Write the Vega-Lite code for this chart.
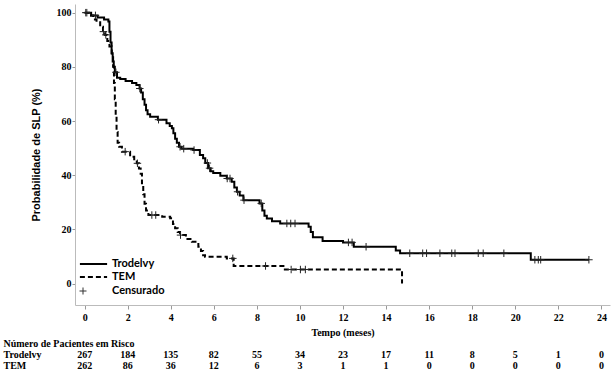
{
  "$schema": "https://vega.github.io/schema/vega-lite/v6.json",
  "padding": {"left": 3, "top": 4, "right": 5, "bottom": 5},
  "background": "white",
  "spacing": 1,
  "config": {"view": {"stroke": null}},
  "resolve": {"legend": {"strokeDash": "independent", "shape": "independent"}, "scale": {"x": "independent", "y": "independent"}},
  "datasets": {
    "curves": [
      {"arm": "Trodelvy", "t": 0, "s": 100}, {"arm": "Trodelvy", "t": 0.3, "s": 99}, {"arm": "Trodelvy", "t": 0.6, "s": 98.2}, {"arm": "Trodelvy", "t": 0.9, "s": 97.5}, {"arm": "Trodelvy", "t": 1.1, "s": 96.7}, {"arm": "Trodelvy", "t": 1.15, "s": 93}, {"arm": "Trodelvy", "t": 1.2, "s": 89}, {"arm": "Trodelvy", "t": 1.25, "s": 85}, {"arm": "Trodelvy", "t": 1.3, "s": 82}, {"arm": "Trodelvy", "t": 1.35, "s": 80}, {"arm": "Trodelvy", "t": 1.4, "s": 78}, {"arm": "Trodelvy", "t": 1.5, "s": 76}, {"arm": "Trodelvy", "t": 1.65, "s": 75.5}, {"arm": "Trodelvy", "t": 1.9, "s": 74.8}, {"arm": "Trodelvy", "t": 2.2, "s": 74}, {"arm": "Trodelvy", "t": 2.4, "s": 73.3}, {"arm": "Trodelvy", "t": 2.55, "s": 72}, {"arm": "Trodelvy", "t": 2.62, "s": 70.5}, {"arm": "Trodelvy", "t": 2.7, "s": 68}, {"arm": "Trodelvy", "t": 2.78, "s": 66}, {"arm": "Trodelvy", "t": 2.85, "s": 64}, {"arm": "Trodelvy", "t": 2.92, "s": 62.5}, {"arm": "Trodelvy", "t": 3.04, "s": 61.6}, {"arm": "Trodelvy", "t": 3.4, "s": 60.5}, {"arm": "Trodelvy", "t": 3.8, "s": 59.2}, {"arm": "Trodelvy", "t": 3.95, "s": 58.2}, {"arm": "Trodelvy", "t": 4.05, "s": 57.3}, {"arm": "Trodelvy", "t": 4.12, "s": 55.5}, {"arm": "Trodelvy", "t": 4.2, "s": 53.5}, {"arm": "Trodelvy", "t": 4.28, "s": 52}, {"arm": "Trodelvy", "t": 4.38, "s": 50.5}, {"arm": "Trodelvy", "t": 4.5, "s": 49.8}, {"arm": "Trodelvy", "t": 5.04, "s": 49.3}, {"arm": "Trodelvy", "t": 5.35, "s": 47.5}, {"arm": "Trodelvy", "t": 5.5, "s": 46.3}, {"arm": "Trodelvy", "t": 5.6, "s": 44.5}, {"arm": "Trodelvy", "t": 5.73, "s": 42.6}, {"arm": "Trodelvy", "t": 5.85, "s": 41.5}, {"arm": "Trodelvy", "t": 5.97, "s": 40.8}, {"arm": "Trodelvy", "t": 6.3, "s": 39.8}, {"arm": "Trodelvy", "t": 6.6, "s": 38.8}, {"arm": "Trodelvy", "t": 6.83, "s": 37.6}, {"arm": "Trodelvy", "t": 6.95, "s": 35.5}, {"arm": "Trodelvy", "t": 7.07, "s": 33.9}, {"arm": "Trodelvy", "t": 7.2, "s": 32.5}, {"arm": "Trodelvy", "t": 7.37, "s": 30.8}, {"arm": "Trodelvy", "t": 8.12, "s": 29.6}, {"arm": "Trodelvy", "t": 8.25, "s": 27}, {"arm": "Trodelvy", "t": 8.35, "s": 25}, {"arm": "Trodelvy", "t": 8.46, "s": 24}, {"arm": "Trodelvy", "t": 8.7, "s": 23}, {"arm": "Trodelvy", "t": 9.08, "s": 22.2}, {"arm": "Trodelvy", "t": 10.4, "s": 21}, {"arm": "Trodelvy", "t": 10.5, "s": 19}, {"arm": "Trodelvy", "t": 10.6, "s": 17.1}, {"arm": "Trodelvy", "t": 11.05, "s": 15.7}, {"arm": "Trodelvy", "t": 12.0, "s": 15.2}, {"arm": "Trodelvy", "t": 12.5, "s": 13.6}, {"arm": "Trodelvy", "t": 14.45, "s": 12.2}, {"arm": "Trodelvy", "t": 14.65, "s": 11.2}, {"arm": "Trodelvy", "t": 20.72, "s": 8.8}, {"arm": "Trodelvy", "t": 23.42, "s": 8.8},
      {"arm": "TEM", "t": 0, "s": 100}, {"arm": "TEM", "t": 0.2, "s": 99}, {"arm": "TEM", "t": 0.4, "s": 97.5}, {"arm": "TEM", "t": 0.55, "s": 96.5}, {"arm": "TEM", "t": 0.72, "s": 94.8}, {"arm": "TEM", "t": 0.85, "s": 93}, {"arm": "TEM", "t": 0.95, "s": 91.8}, {"arm": "TEM", "t": 1.05, "s": 89.5}, {"arm": "TEM", "t": 1.15, "s": 87.5}, {"arm": "TEM", "t": 1.26, "s": 84.4}, {"arm": "TEM", "t": 1.32, "s": 80}, {"arm": "TEM", "t": 1.36, "s": 74}, {"arm": "TEM", "t": 1.4, "s": 68}, {"arm": "TEM", "t": 1.44, "s": 62}, {"arm": "TEM", "t": 1.48, "s": 56}, {"arm": "TEM", "t": 1.53, "s": 52}, {"arm": "TEM", "t": 1.6, "s": 50.5}, {"arm": "TEM", "t": 1.73, "s": 48.7}, {"arm": "TEM", "t": 2.11, "s": 46.8}, {"arm": "TEM", "t": 2.3, "s": 45.5}, {"arm": "TEM", "t": 2.42, "s": 44.4}, {"arm": "TEM", "t": 2.52, "s": 42.5}, {"arm": "TEM", "t": 2.6, "s": 40.5}, {"arm": "TEM", "t": 2.66, "s": 37}, {"arm": "TEM", "t": 2.72, "s": 33}, {"arm": "TEM", "t": 2.78, "s": 29.5}, {"arm": "TEM", "t": 2.85, "s": 27}, {"arm": "TEM", "t": 2.96, "s": 25.3}, {"arm": "TEM", "t": 3.6, "s": 24.7}, {"arm": "TEM", "t": 3.97, "s": 24.1}, {"arm": "TEM", "t": 4.1, "s": 22}, {"arm": "TEM", "t": 4.2, "s": 20.4}, {"arm": "TEM", "t": 4.32, "s": 19}, {"arm": "TEM", "t": 4.43, "s": 17.9}, {"arm": "TEM", "t": 4.7, "s": 16.5}, {"arm": "TEM", "t": 4.98, "s": 15.4}, {"arm": "TEM", "t": 5.28, "s": 13.6}, {"arm": "TEM", "t": 5.4, "s": 12}, {"arm": "TEM", "t": 5.5, "s": 10.5}, {"arm": "TEM", "t": 5.59, "s": 9.9}, {"arm": "TEM", "t": 6.6, "s": 9.3}, {"arm": "TEM", "t": 6.92, "s": 6.5}, {"arm": "TEM", "t": 9.23, "s": 5.2}, {"arm": "TEM", "t": 14.73, "s": 5.2}, {"arm": "TEM", "t": 14.74, "s": 0}
    ],
    "censors": [
      {"arm": "Trodelvy", "t": 0.05, "s": 100}, {"arm": "Trodelvy", "t": 0.5, "s": 99}, {"arm": "Trodelvy", "t": 1.45, "s": 78}, {"arm": "Trodelvy", "t": 2.56, "s": 72}, {"arm": "Trodelvy", "t": 3.43, "s": 60.5}, {"arm": "Trodelvy", "t": 4.43, "s": 50.5}, {"arm": "Trodelvy", "t": 4.6, "s": 49.8}, {"arm": "Trodelvy", "t": 5.08, "s": 49.3}, {"arm": "Trodelvy", "t": 5.7, "s": 44.5}, {"arm": "Trodelvy", "t": 5.8, "s": 42.6}, {"arm": "Trodelvy", "t": 6.62, "s": 38.8}, {"arm": "Trodelvy", "t": 6.75, "s": 38.8}, {"arm": "Trodelvy", "t": 7.1, "s": 33.9}, {"arm": "Trodelvy", "t": 7.4, "s": 30.8}, {"arm": "Trodelvy", "t": 8.2, "s": 29.6}, {"arm": "Trodelvy", "t": 9.39, "s": 22.2}, {"arm": "Trodelvy", "t": 9.57, "s": 22.2}, {"arm": "Trodelvy", "t": 9.77, "s": 22.2}, {"arm": "Trodelvy", "t": 12.25, "s": 15.2}, {"arm": "Trodelvy", "t": 12.42, "s": 15.2}, {"arm": "Trodelvy", "t": 13.07, "s": 13.6}, {"arm": "Trodelvy", "t": 15.1, "s": 11.2}, {"arm": "Trodelvy", "t": 15.7, "s": 11.2}, {"arm": "Trodelvy", "t": 15.88, "s": 11.2}, {"arm": "Trodelvy", "t": 16.5, "s": 11.2}, {"arm": "Trodelvy", "t": 17.05, "s": 11.2}, {"arm": "Trodelvy", "t": 17.2, "s": 11.2}, {"arm": "Trodelvy", "t": 18.28, "s": 11.2}, {"arm": "Trodelvy", "t": 18.51, "s": 11.2}, {"arm": "Trodelvy", "t": 19.47, "s": 11.2}, {"arm": "Trodelvy", "t": 20.91, "s": 8.8}, {"arm": "Trodelvy", "t": 21.07, "s": 8.8}, {"arm": "Trodelvy", "t": 21.18, "s": 8.8}, {"arm": "Trodelvy", "t": 23.42, "s": 8.8},
      {"arm": "TEM", "t": 0.1, "s": 100}, {"arm": "TEM", "t": 0.87, "s": 93}, {"arm": "TEM", "t": 0.98, "s": 91.8}, {"arm": "TEM", "t": 1.88, "s": 48.7}, {"arm": "TEM", "t": 2.45, "s": 44.4}, {"arm": "TEM", "t": 3.12, "s": 25.3}, {"arm": "TEM", "t": 3.3, "s": 25.3}, {"arm": "TEM", "t": 4.45, "s": 17.9}, {"arm": "TEM", "t": 6.88, "s": 9.3}, {"arm": "TEM", "t": 8.4, "s": 6.5}, {"arm": "TEM", "t": 9.59, "s": 5.2}, {"arm": "TEM", "t": 10.02, "s": 5.2}, {"arm": "TEM", "t": 10.25, "s": 5.2}
    ],
    "risk": [
      {"arm": "Trodelvy", "t": 0, "n": 267}, {"arm": "Trodelvy", "t": 2, "n": 184}, {"arm": "Trodelvy", "t": 4, "n": 135}, {"arm": "Trodelvy", "t": 6, "n": 82}, {"arm": "Trodelvy", "t": 8, "n": 55}, {"arm": "Trodelvy", "t": 10, "n": 34}, {"arm": "Trodelvy", "t": 12, "n": 23}, {"arm": "Trodelvy", "t": 14, "n": 17}, {"arm": "Trodelvy", "t": 16, "n": 11}, {"arm": "Trodelvy", "t": 18, "n": 8}, {"arm": "Trodelvy", "t": 20, "n": 5}, {"arm": "Trodelvy", "t": 22, "n": 1}, {"arm": "Trodelvy", "t": 24, "n": 0},
      {"arm": "TEM", "t": 0, "n": 262}, {"arm": "TEM", "t": 2, "n": 86}, {"arm": "TEM", "t": 4, "n": 36}, {"arm": "TEM", "t": 6, "n": 12}, {"arm": "TEM", "t": 8, "n": 6}, {"arm": "TEM", "t": 10, "n": 3}, {"arm": "TEM", "t": 12, "n": 1}, {"arm": "TEM", "t": 14, "n": 1}, {"arm": "TEM", "t": 16, "n": 0}, {"arm": "TEM", "t": 18, "n": 0}, {"arm": "TEM", "t": 20, "n": 0}, {"arm": "TEM", "t": 22, "n": 0}, {"arm": "TEM", "t": 24, "n": 0}
    ]
  },
  "vconcat": [
    {
      "width": 535,
      "height": 301,
      "layer": [
        {
          "data": {"name": "curves"},
          "mark": {"type": "line", "interpolate": "step-after", "color": "black", "strokeWidth": 2},
          "encoding": {
            "x": {
              "field": "t", "type": "quantitative",
              "scale": {"domain": [-0.45, 24.4], "nice": false, "zero": false},
              "axis": {
                "values": [0,1,2,3,4,5,6,7,8,9,10,11,12,13,14,15,16,17,18,19,20,21,22,23,24],
                "labelExpr": "datum.value % 2 == 0 ? datum.label : ''",
                "title": "Tempo (meses)",
                "titleFont": "Liberation Serif", "titleFontSize": 10, "titleFontWeight": "bold", "titleColor": "black", "titlePadding": 5,
                "labelFont": "Liberation Serif", "labelFontSize": 10, "labelFontWeight": "bold", "labelColor": "black",
                "labelFlush": false, "labelOverlap": false, "labelPadding": 3,
                "tickSize": 4, "tickColor": "#999", "domainColor": "#bbb", "grid": false
              }
            },
            "y": {
              "field": "s", "type": "quantitative",
              "scale": {"domain": [-7.9, 103.2], "nice": false, "zero": false},
              "axis": {
                "values": [0, 20, 40, 60, 80, 100],
                "title": "Probabilidade de SLP (%)",
                "titleFont": "Liberation Sans", "titleFontSize": 11, "titleFontWeight": "bold", "titleColor": "black", "titlePadding": 15,
                "labelFont": "Liberation Serif", "labelFontSize": 10, "labelFontWeight": "bold", "labelColor": "black",
                "labelPadding": 1, "tickSize": 3, "tickColor": "#999", "domainColor": "#bbb", "grid": false
              }
            },
            "strokeDash": {
              "field": "arm", "type": "nominal",
              "scale": {"domain": ["Trodelvy", "TEM"], "range": [[1, 0], [5, 3]]},
              "legend": {
                "title": null, "orient": "none", "legendX": 13, "legendY": 254.5, "padding": 0,
                "symbolType": "M-3.4,0H3.4", "symbolSize": 64, "symbolStrokeWidth": 2, "symbolStrokeColor": "black", "symbolOffset": 0,
                "labelOffset": 13, "labelFont": "Lato", "labelFontWeight": "bold", "labelFontSize": 11, "labelColor": "black",
                "rowPadding": 1
              }
            }
          }
        },
        {
          "data": {"name": "censors"},
          "mark": {"type": "point", "filled": false, "stroke": "#222", "strokeWidth": 1, "size": 56, "opacity": 1},
          "encoding": {
            "x": {"field": "t", "type": "quantitative"},
            "y": {"field": "s", "type": "quantitative"},
            "shape": {
              "datum": "Censurado", "type": "nominal",
              "scale": {"range": ["M-1,0H1M0,-1V1"]},
              "legend": {
                "title": null, "orient": "none", "legendX": 2.5, "legendY": 281.5, "padding": 0,
                "symbolSize": 49, "symbolStrokeWidth": 1, "symbolStrokeColor": "#333", "symbolFillColor": "transparent", "symbolOffset": 0,
                "labelOffset": 23.5, "labelFont": "Lato", "labelFontWeight": "bold", "labelFontSize": 11, "labelColor": "black",
                "rowPadding": 1
              }
            }
          }
        }
      ]
    },
    {
      "width": 535,
      "height": 33,
      "data": {"name": "risk"},
      "mark": {"type": "text", "font": "Liberation Serif", "fontWeight": "bold", "fontSize": 10, "color": "black", "align": "center", "baseline": "middle"},
      "encoding": {
        "x": {"field": "t", "type": "quantitative", "scale": {"domain": [-0.45, 24.4], "nice": false, "zero": false}, "axis": null},
        "y": {
          "field": "arm", "type": "nominal",
          "scale": {"domain": ["hdr", "Trodelvy", "TEM"], "paddingInner": 0, "paddingOuter": 0},
          "axis": {
            "title": null, "domain": false, "ticks": false, "tickSize": 0,
            "labelAlign": "left", "labelPadding": 72, "labelLimit": 300,
            "labelExpr": "datum.value == 'hdr' ? 'Número de Pacientes em Risco' : datum.label",
            "labelFont": "Liberation Serif", "labelFontSize": 10, "labelFontWeight": "bold", "labelColor": "black"
          }
        },
        "text": {"field": "n", "type": "quantitative"}
      }
    }
  ]
}
